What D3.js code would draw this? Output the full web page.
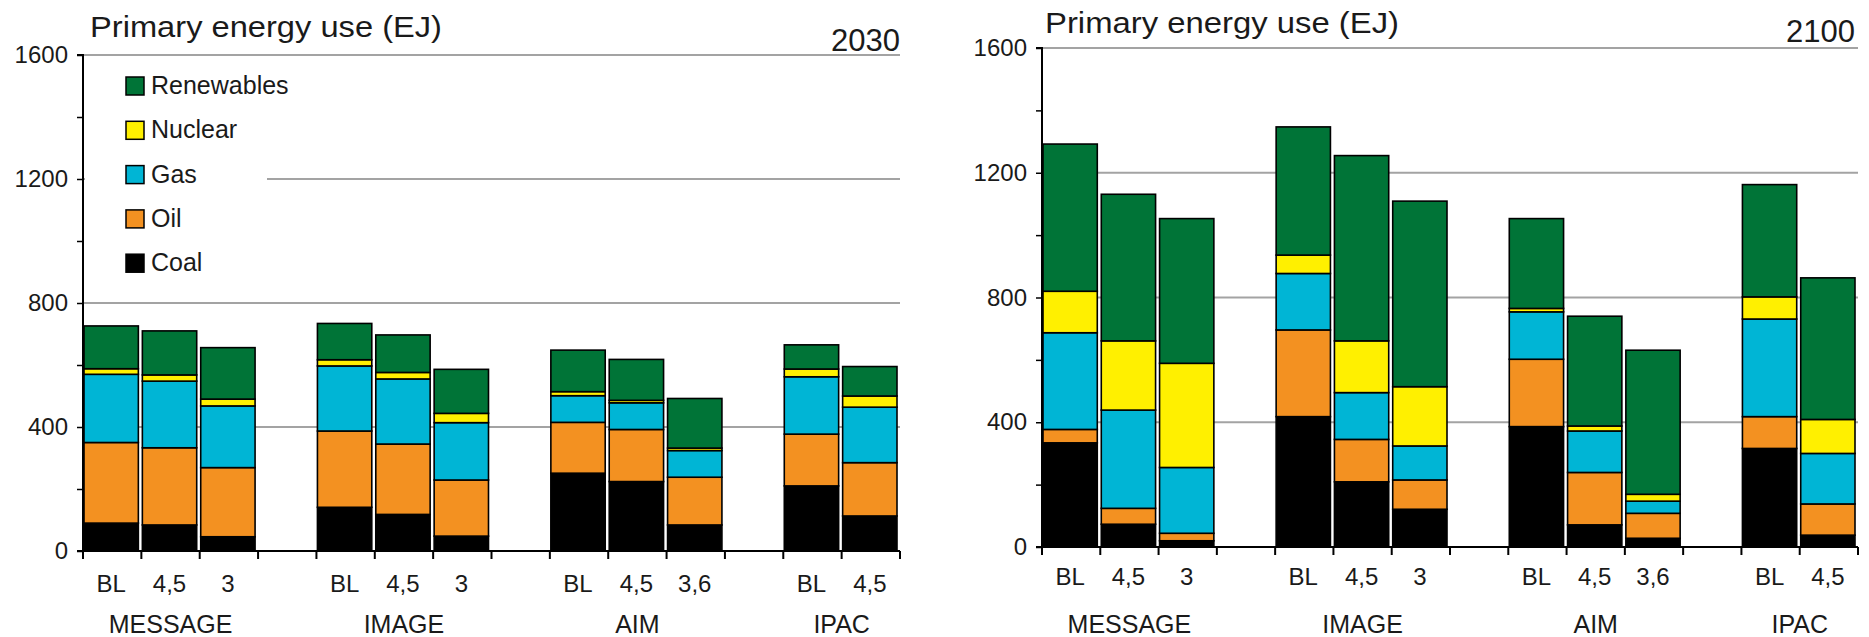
<!DOCTYPE html>
<html>
<head>
<meta charset="utf-8">
<script src="https://cdn.jsdelivr.net/npm/d3@7"></script>
<style>
  html, body { margin: 0; padding: 0; background: #fff; }
  svg { display: block; }
  text { font-family: "Liberation Sans", Arial, Helvetica, sans-serif; fill: #1a1a1a; }
</style>
</head>
<body>
<svg id="chart" width="1869" height="637"></svg>
<script>
// Model groups and the scenarios shown for each (same in both years)
const models = ["MESSAGE", "IMAGE", "AIM", "IPAC"];
const scenarios = [["BL", "4,5", "3"], ["BL", "4,5", "3"], ["BL", "4,5", "3,6"], ["BL", "4,5"]];

// Energy carriers, stacked bottom to top
const carriers = ["Coal", "Oil", "Gas", "Nuclear", "Renewables"];
const carrierColors = ["#000000", "#f39121", "#00b5d5", "#fff000", "#007437"];

// Primary energy use in 2030 (EJ), one value per bar, in model/scenario order
const coal2030       = [90, 84, 46, 141, 118, 48, 251, 224, 84, 210, 113];
const oil2030        = [260, 249, 223, 246, 227, 181, 164, 168, 154, 167, 172];
const gas2030        = [220, 215, 199, 210, 210, 185, 86, 86, 86, 185, 179];
const nuclear2030    = [18, 20, 22, 20, 21, 30, 13, 8, 8, 25, 36];
const renewables2030 = [138, 142, 166, 117, 121, 142, 134, 132, 160, 78, 95];

// Primary energy use in 2100 (EJ)
const coal2100       = [334, 73, 20, 418, 209, 121, 386, 71, 28, 316, 38];
const oil2100        = [43, 51, 24, 278, 136, 94, 216, 168, 80, 102, 100];
const gas2100        = [310, 315, 211, 181, 150, 109, 152, 133, 39, 313, 162];
const nuclear2100    = [133, 222, 334, 59, 166, 190, 11, 16, 22, 71, 109];
const renewables2100 = [472, 470, 464, 411, 594, 595, 288, 352, 462, 360, 454];

// Axis values
const yMax = 1600;
const yLabelTicks = [0, 400, 800, 1200, 1600];
const yAllTicks = [0, 200, 400, 600, 800, 1000, 1200, 1400, 1600];
const gridValues = [400, 800, 1200, 1600];

const titleText = "Primary energy use (EJ)";
const legendOrder = ["Renewables", "Nuclear", "Gas", "Oil", "Coal"];

// Slot layout: each model takes its scenarios plus one empty slot between models
function buildSlots() {
  const slots = [];
  let bar = 0;
  models.forEach((m, gi) => {
    scenarios[gi].forEach(s => slots.push({ id: "s" + slots.length, model: m, scen: s, bar: bar++ }));
    if (gi < models.length - 1) slots.push({ id: "s" + slots.length, gap: true });
  });
  return slots;
}

const svg = d3.select("#chart");

function drawPanel(cfg) {
  const g = svg.append("g");
  const slots = buildSlots();
  const x = d3.scaleBand().domain(slots.map(d => d.id)).range([cfg.x0, cfg.x1]).paddingInner(0).paddingOuter(0);
  const y = d3.scaleLinear().domain([0, yMax]).range([cfg.yBottom, cfg.yTop]);

  // gridlines
  g.append("g").selectAll("line").data(gridValues).join("line")
    .attr("x1", cfg.x0).attr("x2", cfg.x1)
    .attr("y1", d => y(d)).attr("y2", d => y(d))
    .attr("stroke", "#a3a3a3").attr("stroke-width", 2);

  // legend background masks the grid behind it
  if (cfg.legend) {
    g.append("rect").attr("x", cfg.x0 + 2).attr("y", y(1560)).attr("width", 182)
      .attr("height", y(860) - y(1560)).attr("fill", "#fff");
  }

  // stacked bars
  const series = cfg.series;
  const barSlots = slots.filter(d => !d.gap);
  const rows = barSlots.map(s => {
    const r = { id: s.id };
    carriers.forEach((c, ci) => { r[c] = series[ci][s.bar]; });
    return r;
  });
  const stacked = d3.stack().keys(carriers)(rows);
  g.append("g").selectAll("g").data(stacked).join("g")
    .attr("fill", (d, i) => carrierColors[i])
    .selectAll("rect").data(d => d).join("rect")
    .attr("x", d => x(d.data.id) + 1)
    .attr("width", x.bandwidth() - 4)
    .attr("y", d => y(d[1]))
    .attr("height", d => y(d[0]) - y(d[1]))
    .attr("stroke", "#000").attr("stroke-width", 1.6);

  // y axis
  const yAxis = d3.axisLeft(y).tickValues(yAllTicks).tickSize(6).tickPadding(9)
    .tickFormat(d => yLabelTicks.includes(d) ? d : "");
  const ya = g.append("g").attr("transform", `translate(${cfg.x0},0)`).call(yAxis);
  ya.select(".domain").attr("stroke", "#000").attr("stroke-width", 2).attr("d", `M-6,${cfg.yBottom}H0V${cfg.yTop}H-6`);
  ya.selectAll(".tick line").attr("stroke", "#000").attr("stroke-width", 1.5);
  ya.selectAll(".tick text").style("font-size", "24px").attr("fill", "#1a1a1a")
    .style("font-family", "'Liberation Sans', Arial, sans-serif");

  // x axis: ticks at every slot boundary
  const bounds = slots.map(s => x(s.id)).concat([cfg.x1]);
  const xa = g.append("g");
  xa.append("line").attr("x1", cfg.x0).attr("x2", cfg.x1).attr("y1", cfg.yBottom).attr("y2", cfg.yBottom)
    .attr("stroke", "#000").attr("stroke-width", 2);
  xa.selectAll("line.tk").data(bounds).join("line").attr("class", "tk")
    .attr("x1", d => d).attr("x2", d => d).attr("y1", cfg.yBottom).attr("y2", cfg.yBottom + 8)
    .attr("stroke", "#000").attr("stroke-width", 2);

  // scenario labels
  g.append("g").selectAll("text").data(barSlots).join("text")
    .attr("x", d => x(d.id) + x.bandwidth() / 2 - 1)
    .attr("y", cfg.yBottom + cfg.catDy)
    .attr("text-anchor", "middle").style("font-size", "24px")
    .text(d => d.scen);

  // model labels centred under their scenario slots
  g.append("g").selectAll("text").data(models).join("text")
    .attr("x", m => {
      const ss = slots.filter(s => s.model === m);
      return (x(ss[0].id) + x(ss[ss.length - 1].id) + x.bandwidth()) / 2;
    })
    .attr("y", 633)
    .attr("text-anchor", "middle").style("font-size", "25px")
    .text(m => m);

  // titles
  g.append("text").attr("x", cfg.x0 + cfg.titleDx).attr("y", cfg.titleY)
    .style("font-size", "30px")
    .attr("textLength", cfg.titleLen).attr("lengthAdjust", "spacingAndGlyphs")
    .text(titleText);
  g.append("text").attr("x", cfg.yearX).attr("y", cfg.yearY).attr("text-anchor", "end")
    .style("font-size", "31px").text(cfg.year);

  // legend
  if (cfg.legend) {
    const lg = g.append("g").selectAll("g").data(legendOrder).join("g")
      .attr("transform", (d, i) => `translate(${cfg.x0 + 43},${77 + i * 44.3})`);
    lg.append("rect").attr("width", 18).attr("height", 18)
      .attr("fill", d => carrierColors[carriers.indexOf(d)])
      .attr("stroke", "#000").attr("stroke-width", 1.5);
    lg.append("text").attr("x", 25).attr("y", 17).style("font-size", "25px").text(d => d);
  }
}

drawPanel({
  x0: 83, x1: 900, yTop: 55, yBottom: 551, catDy: 41,
  titleDx: 7, titleY: 37, titleLen: 352, year: "2030", yearX: 900, yearY: 51, legend: true,
  series: [coal2030, oil2030, gas2030, nuclear2030, renewables2030]
});
drawPanel({
  x0: 1042, x1: 1858, yTop: 48, yBottom: 547, catDy: 38,
  titleDx: 3, titleY: 33, titleLen: 354, year: "2100", yearX: 1855, yearY: 42, legend: false,
  series: [coal2100, oil2100, gas2100, nuclear2100, renewables2100]
});
</script>
</body>
</html>
